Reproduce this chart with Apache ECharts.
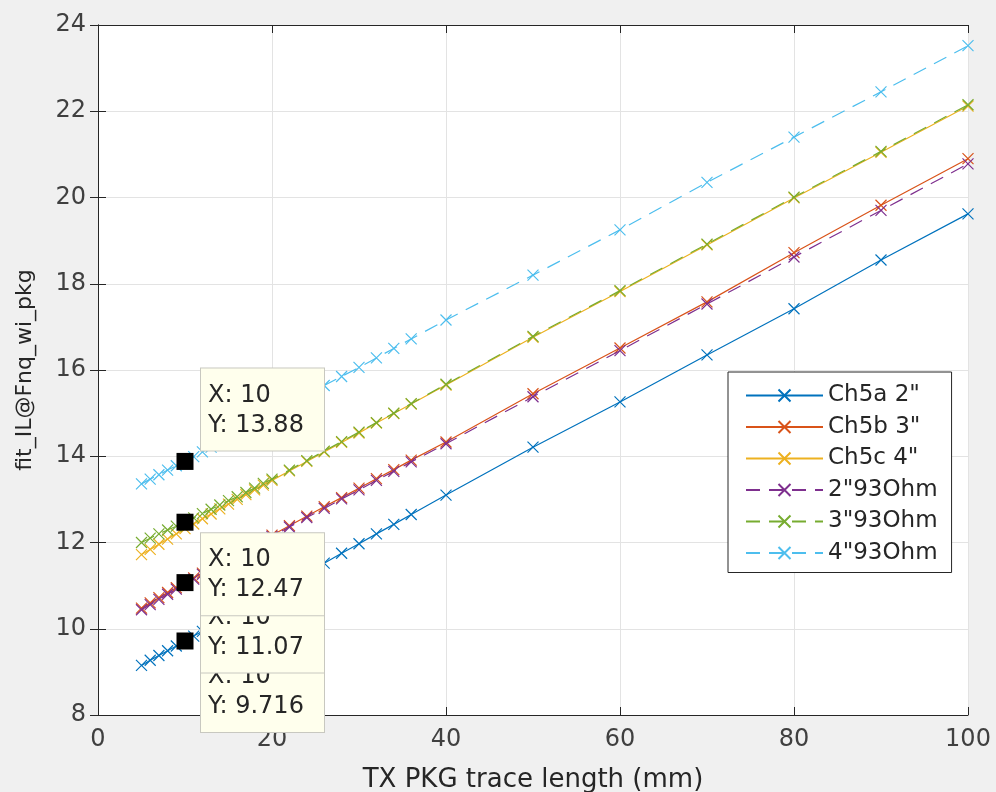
<!DOCTYPE html>
<html lang="en">
<head>
    <meta charset="utf-8">
    <title>fit_IL vs TX PKG trace length</title>
    <script src="https://cdn.jsdelivr.net/npm/echarts@6.0.0/dist/echarts.min.js"></script>
    <style>
        html, body { margin: 0; padding: 0; background: #f0f0f0; }
        #main { width: 996px; height: 792px; }
    </style>
</head>
<body>
<div id="main"></div>
<script>
    // trace length (mm)
    var xs = [5, 6, 7, 8, 9, 10, 11, 12, 13, 14, 15, 16, 17, 18, 19, 20,
        22, 24, 26, 28, 30, 32, 34, 36, 40, 50, 60, 70, 80, 90, 100];

    var ch5a = [9.15, 9.27, 9.38, 9.49, 9.60, 9.716, 9.83, 9.94, 10.05, 10.17, 10.28, 10.39, 10.51, 10.62, 10.73, 10.85,
        11.07, 11.30, 11.52, 11.75, 11.97, 12.20, 12.42, 12.65, 13.10, 14.21, 15.26, 16.35, 17.42, 18.55, 19.62];
    var ch5b = [10.48, 10.60, 10.72, 10.84, 10.95, 11.07, 11.18, 11.29, 11.40, 11.51, 11.62, 11.73, 11.84, 11.95, 12.06, 12.17,
        12.39, 12.61, 12.83, 13.04, 13.26, 13.48, 13.69, 13.91, 14.33, 15.45, 16.51, 17.58, 18.72, 19.82, 20.90];
    var ch5c = [11.72, 11.84, 11.96, 12.08, 12.20, 12.32, 12.43, 12.55, 12.66, 12.78, 12.89, 13.00, 13.11, 13.22, 13.33, 13.44,
        13.66, 13.88, 14.10, 14.32, 14.54, 14.77, 14.99, 15.21, 15.65, 16.76, 17.82, 18.90, 19.99, 21.05, 22.12];
    var ohm2 = [10.44, 10.56, 10.68, 10.80, 10.92, 11.04, 11.15, 11.26, 11.37, 11.48, 11.59, 11.70, 11.81, 11.92, 12.03, 12.14,
        12.36, 12.58, 12.79, 13.01, 13.22, 13.44, 13.65, 13.87, 14.29, 15.38, 16.45, 17.53, 18.62, 19.70, 20.78];
    var ohm3 = [12.00, 12.10, 12.20, 12.29, 12.38, 12.47, 12.57, 12.67, 12.77, 12.87, 12.97, 13.06, 13.16, 13.26, 13.37, 13.47,
        13.68, 13.90, 14.12, 14.34, 14.56, 14.78, 15.00, 15.22, 15.67, 16.78, 17.84, 18.92, 20.01, 21.07, 22.15];
    var ohm4 = [13.36, 13.47, 13.57, 13.68, 13.78, 13.88, 13.99, 14.10, 14.21, 14.32, 14.43, 14.54, 14.65, 14.76, 14.87, 14.98,
        15.20, 15.42, 15.64, 15.85, 16.06, 16.28, 16.50, 16.72, 17.16, 18.20, 19.25, 20.35, 21.40, 22.45, 23.52];

    var names = ['Ch5a 2"', 'Ch5b 3"', 'Ch5c 4"', '2"93Ohm', '3"93Ohm', '4"93Ohm'];

    // data tips (bottom one first so the upper boxes sit on top)
    var tipX = [10, 10, 10, 10];
    var tipY = [9.716, 11.07, 12.47, 13.88];

    var font = 'DejaVu Sans';
    var colors = ['#0072BD', '#D95319', '#EDB120', '#7E2F8E', '#77AC30', '#4DBEEE'];
    var ys = [ch5a, ch5b, ch5c, ohm2, ohm3, ohm4];
    var crossSymbol = 'path://M0,0L10,10M10,0L0,10';

    var series = ys.map(function (arr, i) {
        return {
            name: names[i],
            type: 'line',
            data: xs.map(function (x, k) { return [x, arr[k]]; }),
            symbol: crossSymbol,
            symbolSize: 11,
            showAllSymbol: true,
            lineStyle: {color: colors[i], width: 1.2, type: i < 3 ? 'solid' : [14, 9]},
            itemStyle: {color: colors[i], borderColor: colors[i], borderWidth: 1.2},
            emphasis: {disabled: true},
            z: 2 + i
        };
    });

    var tipOffsets = [[16, 9], [16, 8], [16, 11], [16, -93]];
    series.push({
        type: 'scatter',
        symbol: 'rect',
        symbolSize: 17,
        itemStyle: {color: '#000', opacity: 1},
        z: 20,
        data: tipX.map(function (x, i) {
            return {value: [x, tipY[i]], label: {offset: tipOffsets[i]}};
        }),
        label: {
            show: true,
            position: ['50%', '50%'],
            align: 'left',
            verticalAlign: 'top',
            formatter: function (p) { return 'X: ' + p.value[0] + '\nY: ' + p.value[1]; },
            fontFamily: font,
            fontSize: 24,
            lineHeight: 30,
            color: '#262626',
            opacity: 1,
            backgroundColor: '#ffffed',
            borderColor: '#c8c8c0',
            borderWidth: 1,
            padding: [12, 10, 10, 7],
            width: 106
        },
        emphasis: {disabled: true}
    });

    var axisCommon = {
        axisLine: {show: true, lineStyle: {color: '#262626', width: 1}},
        axisTick: {show: true, inside: true, length: 8, lineStyle: {color: '#262626'}}
    };

    var chart = echarts.init(document.getElementById('main'));
    chart.setOption({
        animation: false,
        backgroundColor: '#f0f0f0',
        textStyle: {fontFamily: font},
        grid: {
            left: 98, right: 28, top: 25, bottom: 77, outerBoundsMode: 'none',
            show: true, backgroundColor: '#fff', borderWidth: 0
        },
        legend: {
            orient: 'vertical',
            left: 728,
            top: 372,
            data: names,
            itemWidth: 77,
            itemHeight: 15,
            itemGap: 8.5,
            padding: [12, 14, 8, 17],
            backgroundColor: '#fff',
            borderColor: '#262626',
            borderWidth: 1,
            borderRadius: 0,
            textStyle: {fontFamily: font, fontSize: 23, color: '#262626'}
        },
        xAxis: [
            Object.assign({
                type: 'value', min: 0, max: 100, interval: 20, position: 'bottom',
                name: 'TX PKG trace length (mm)', nameLocation: 'middle', nameGap: 52,
                nameTextStyle: {fontFamily: font, fontSize: 26, color: '#262626'},
                axisLabel: {fontFamily: font, fontSize: 24, color: '#404040', margin: 13},
                splitLine: {show: true, lineStyle: {color: '#e3e3e3', width: 1}}
            }, axisCommon),
            Object.assign({
                type: 'value', min: 0, max: 100, interval: 20, position: 'top',
                axisLabel: {show: false}, splitLine: {show: false}
            }, axisCommon)
        ],
        yAxis: [
            Object.assign({
                type: 'value', min: 8, max: 24, interval: 2, position: 'left',
                name: 'fit_IL@Fnq_wi_pkg', nameLocation: 'middle', nameGap: 62,
                nameTextStyle: {fontFamily: font, fontSize: 22, color: '#262626'},
                axisLabel: {fontFamily: font, fontSize: 24, color: '#404040', margin: 12},
                splitLine: {show: true, lineStyle: {color: '#e3e3e3', width: 1}}
            }, axisCommon),
            Object.assign({
                type: 'value', min: 8, max: 24, interval: 2, position: 'right',
                axisLabel: {show: false}, splitLine: {show: false}
            }, axisCommon)
        ],
        series: series
    });
</script>
</body>
</html>
